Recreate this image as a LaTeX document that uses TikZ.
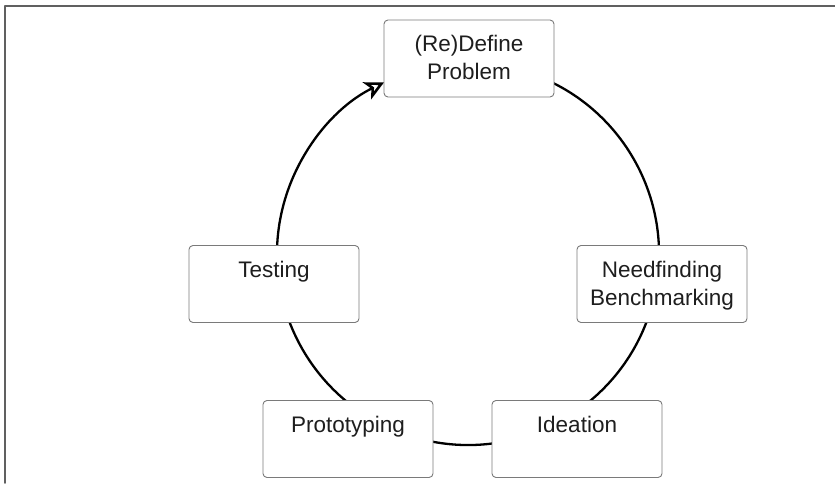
\documentclass[tikz,border=0pt]{standalone}
\usepackage{fontspec}
\setmainfont{Liberation Sans}
\usepackage{tikz}
\usetikzlibrary{positioning}
\usetikzlibrary{arrows.meta}

\definecolor{boxgray}{HTML}{7A7A7A}
\definecolor{framegray}{HTML}{606060}
\definecolor{textgray}{HTML}{1E1E1E}

\begin{document}
\begin{tikzpicture}[x=1pt,y=1pt,line cap=round,line join=round,
  stage/.style={draw=boxgray,fill=white,rounded corners=4pt,line width=0.9pt,
    minimum width=170pt,minimum height=77pt,inner sep=0pt},
  stagetext/.style={anchor=north,inner sep=0pt,align=center,text=textgray,
    font=\fontsize{22.5}{28}\selectfont},
  cycle/.style={line width=2.3pt,black}]
\useasboundingbox (0,0) rectangle (835,483);
% frame
\draw [framegray,line width=1.6pt] (835,477)-- (5,477)-- (5,0);
% the loop
\coordinate (ctr) at (468,229);
\draw [cycle,-{Stealth[open,length=19pt,width=19pt,inset=5pt,line width=2.6pt]}] (ctr) ++(75:191) arc [start angle=75,end angle=-243.9,radius=191];
% stages
\node [stage] (define) at (469,424.5) {};
\node [stage] (need) at (662,199) {};
\node [stage] (ideation) at (577,44) {};
\node [stage] (proto) at (348,44) {};
\node [stage] (testing) at (274,199) {};
\node [stagetext,below=15pt of define.north] (definetxt) {(Re)Define\\Problem};
\node [stagetext,below=16pt of need.north] (needtxt) {Needfinding\\Benchmarking};
\node [stagetext,below=16pt of ideation.north] (ideationtxt) {Ideation};
\node [stagetext,below=16pt of proto.north] (prototxt) {Prototyping};
\node [stagetext,below=16pt of testing.north] (testingtxt) {Testing};
\end{tikzpicture}
\end{document}
